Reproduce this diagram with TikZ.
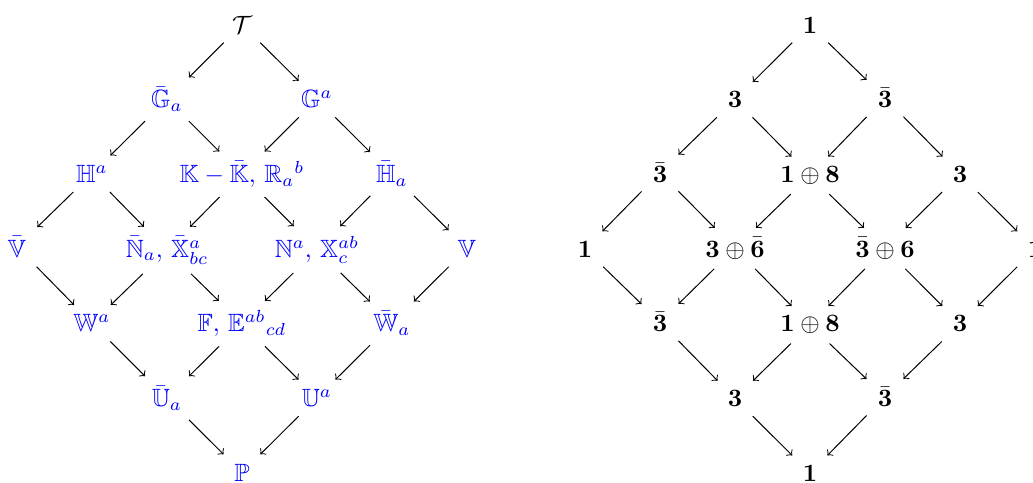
\documentclass[tikz,border=0pt]{standalone}
\usepackage{amsmath,amssymb}
\tikzset{
  cell/.style={inner xsep=1ex, inner ysep=0.85ex, anchor=base},
  bcell/.style={cell, text=blue},
  arr/.style={->, line width=0.4pt},
}
\begin{document}
\begin{tikzpicture}[x=0.4pt, y=-0.4pt]
\useasboundingbox (0,0) rectangle (1033,482);
% ---------- left diamond ----------
\node[cell] (T) at (242,33) {$\mathcal{T}$};
\node[bcell] (Gb) at (167,107.7) {$\bar{\mathbb{G}}_a$};
\node[bcell] (G) at (317,107.7) {$\mathbb{G}^a$};
\node[bcell] (H) at (92,182.4) {$\mathbb{H}^a$};
\node[bcell] (K) at (242,182.4) {$\mathbb{K}-\bar{\mathbb{K}},\,\mathbb{R}_a{}^b$};
\node[bcell] (Hb) at (392,182.4) {$\bar{\mathbb{H}}_a$};
\node[bcell] (Vb) at (17,257.1) {$\bar{\mathbb{V}}$};
\node[bcell] (NbX) at (167,257.1) {$\bar{\mathbb{N}}_a,\,\bar{\mathbb{X}}^a_{bc}$};
\node[bcell] (NX) at (317,257.1) {$\mathbb{N}^a,\,\mathbb{X}^{ab}_c$};
\node[bcell] (V) at (467,257.1) {$\mathbb{V}$};
\node[bcell] (W) at (92,331.8) {$\mathbb{W}^a$};
\node[bcell] (FE) at (242,331.8) {$\mathbb{F},\,\mathbb{E}^{ab}{}_{cd}$};
\node[bcell] (Wb) at (392,331.8) {$\bar{\mathbb{W}}_a$};
\node[bcell] (Ub) at (167,406.5) {$\bar{\mathbb{U}}_a$};
\node[bcell] (U) at (317,406.5) {$\mathbb{U}^a$};
\node[bcell] (P) at (242,481.2) {$\mathbb{P}$};
\draw[arr] (T) -- (Gb);
\draw[arr] (T) -- (G);
\draw[arr] (Gb) -- (H);
\draw[arr] (Gb) -- (K);
\draw[arr] (G) -- (K);
\draw[arr] (G) -- (Hb);
\draw[arr] (H) -- (Vb);
\draw[arr] (H) -- (NbX);
\draw[arr] (K) -- (NbX);
\draw[arr] (K) -- (NX);
\draw[arr] (Hb) -- (NX);
\draw[arr] (Hb) -- (V);
\draw[arr] (Vb) -- (W);
\draw[arr] (NbX) -- (W);
\draw[arr] (NbX) -- (FE);
\draw[arr] (NX) -- (FE);
\draw[arr] (NX) -- (Wb);
\draw[arr] (V) -- (Wb);
\draw[arr] (W) -- (Ub);
\draw[arr] (FE) -- (Ub);
\draw[arr] (FE) -- (U);
\draw[arr] (Wb) -- (U);
\draw[arr] (Ub) -- (P);
\draw[arr] (U) -- (P);
% ---------- right diamond ----------
\node[cell] (r0) at (810,33) {$\mathbf{1}$};
\node[cell] (r1a) at (735,107.7) {$\mathbf{3}$};
\node[cell] (r1b) at (885,107.7) {$\bar{\mathbf{3}}$};
\node[cell] (r2a) at (660,182.4) {$\bar{\mathbf{3}}$};
\node[cell] (r2b) at (810,182.4) {$\mathbf{1}\oplus\mathbf{8}$};
\node[cell] (r2c) at (960,182.4) {$\mathbf{3}$};
\node[cell] (r3a) at (585,257.1) {$\mathbf{1}$};
\node[cell] (r3b) at (735,257.1) {$\mathbf{3}\oplus\bar{\mathbf{6}}$};
\node[cell] (r3c) at (885,257.1) {$\bar{\mathbf{3}}\oplus\mathbf{6}$};
\node[cell] (r3d) at (1035,257.1) {$\mathbf{1}$};
\node[cell] (r4a) at (660,331.8) {$\bar{\mathbf{3}}$};
\node[cell] (r4b) at (810,331.8) {$\mathbf{1}\oplus\mathbf{8}$};
\node[cell] (r4c) at (960,331.8) {$\mathbf{3}$};
\node[cell] (r5a) at (735,406.5) {$\mathbf{3}$};
\node[cell] (r5b) at (885,406.5) {$\bar{\mathbf{3}}$};
\node[cell] (r6) at (810,481.2) {$\mathbf{1}$};
\draw[arr] (r0) -- (r1a);
\draw[arr] (r0) -- (r1b);
\draw[arr] (r1a) -- (r2a);
\draw[arr] (r1a) -- (r2b);
\draw[arr] (r1b) -- (r2b);
\draw[arr] (r1b) -- (r2c);
\draw[arr] (r2a) -- (r3a);
\draw[arr] (r2a) -- (r3b);
\draw[arr] (r2b) -- (r3b);
\draw[arr] (r2b) -- (r3c);
\draw[arr] (r2c) -- (r3c);
\draw[arr] (r2c) -- (r3d);
\draw[arr] (r3a) -- (r4a);
\draw[arr] (r3b) -- (r4a);
\draw[arr] (r3b) -- (r4b);
\draw[arr] (r3c) -- (r4b);
\draw[arr] (r3c) -- (r4c);
\draw[arr] (r3d) -- (r4c);
\draw[arr] (r4a) -- (r5a);
\draw[arr] (r4b) -- (r5a);
\draw[arr] (r4b) -- (r5b);
\draw[arr] (r4c) -- (r5b);
\draw[arr] (r5a) -- (r6);
\draw[arr] (r5b) -- (r6);
\end{tikzpicture}
\end{document}
